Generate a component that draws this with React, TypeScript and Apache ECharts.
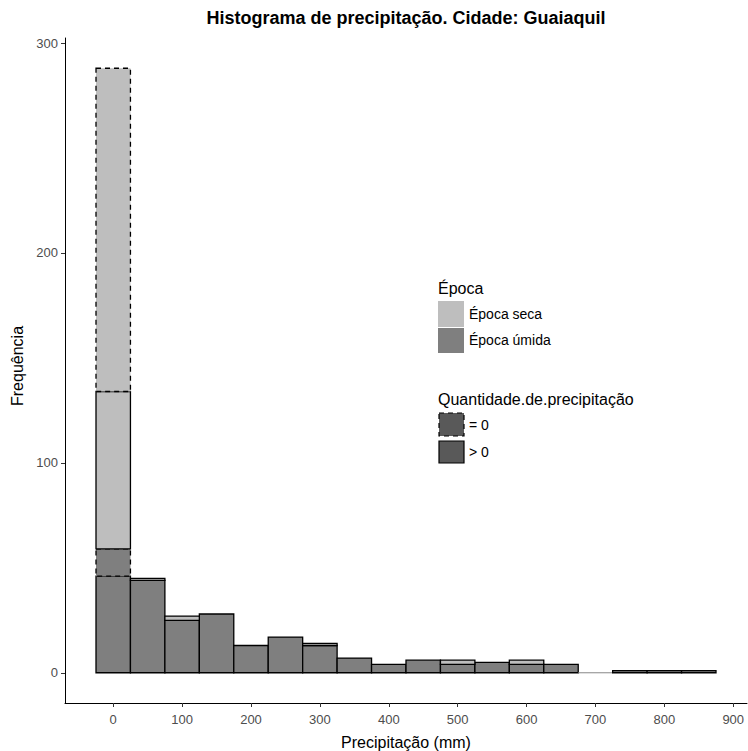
import React, { useEffect, useRef } from "react";
import * as echarts from "echarts";

// Histogram bins (centres, mm) — width 50
const binCenters = [0, 50, 100, 150, 200, 250, 300, 350, 400, 450, 500, 550, 600, 650, 700, 750, 800, 850];
const binWidth = 50;
// Counts per group (stack order bottom → top)
const wetPositive = [46, 44, 25, 28, 13, 17, 13, 7, 4, 6, 4, 5, 4, 4, 0, 1, 1, 1];
const wetZero = [13, 0, 0, 0, 0, 0, 0, 0, 0, 0, 0, 0, 0, 0, 0, 0, 0, 0];
const dryPositive = [75, 1, 2, 0, 0, 0, 1, 0, 0, 0, 2, 0, 2, 0, 0, 0, 0, 0];
const dryZero = [154, 0, 0, 0, 0, 0, 0, 0, 0, 0, 0, 0, 0, 0, 0, 0, 0, 0];

const xTicks = [0, 100, 200, 300, 400, 500, 600, 700, 800, 900];
const yTicks = [0, 100, 200, 300];

const titleText = "Histograma de precipitação. Cidade: Guaiaquil";
const xName = "Precipitação (mm)";
const yName = "Frequência";
const fillLegendTitle = "Época";
const fillLegendLabels = ["Época seca", "Época úmida"];
const lineLegendTitle = "Quantidade.de.precipitação";
const lineLegendLabels = ["= 0", "> 0"];

const FONT = "'Liberation Sans', Arial, sans-serif";
const LIGHT = "#BEBEBE";
const DARK = "#7F7F7F";
const KEY = "#595959";

export default function App() {
  const ref = useRef<HTMLDivElement>(null);

  useEffect(() => {
    if (!ref.current) return;
    const chart = echarts.init(ref.current, undefined, { renderer: "svg" });

    const groups = [
      { name: "Época úmida > 0", values: wetPositive, fill: DARK, dashed: false },
      { name: "Época úmida = 0", values: wetZero, fill: DARK, dashed: true },
      { name: "Época seca > 0", values: dryPositive, fill: LIGHT, dashed: false },
      { name: "Época seca = 0", values: dryZero, fill: LIGHT, dashed: true },
    ];

    const totals = binCenters.map((_, i) => groups.reduce((s, g) => s + g.values[i], 0));
    const cum = binCenters.map(() => 0);

    const series = groups.map((g, gi) => {
      const data: number[][] = [];
      binCenters.forEach((c, i) => {
        const v = g.values[i];
        const y0 = cum[i];
        const y1 = y0 + v;
        cum[i] = y1;
        if (v > 0 || (gi === 0 && totals[i] === 0)) {
          data.push([c - binWidth / 2, c + binWidth / 2, y0, y1]);
        }
      });
      return {
        type: "custom",
        name: g.name,
        data,
        encode: { x: [0, 1], y: [2, 3] },
        renderItem: (params: any, api: any) => {
          const x0 = api.value(0);
          const x1 = api.value(1);
          const y0 = api.value(2);
          const y1 = api.value(3);
          const p0 = api.coord([x0, y1]);
          const p1 = api.coord([x1, y0]);
          if (y1 === y0) {
            return {
              type: "line",
              shape: { x1: p0[0], y1: p1[1], x2: p1[0], y2: p1[1] },
              style: { stroke: "#888", lineWidth: 1 },
            };
          }
          return {
            type: "rect",
            shape: { x: p0[0], y: p0[1], width: p1[0] - p0[0], height: p1[1] - p0[1] },
            style: {
              fill: g.fill,
              stroke: "#000",
              lineWidth: 1.3,
              lineDash: g.dashed ? [5, 4] : null,
            },
          };
        },
      };
    });

    const legendText = (text: string, x: number, y: number, size: number) => ({
      type: "text",
      x,
      y,
      style: { text, font: `${size}px ${FONT}`, fill: "#000", align: "left", verticalAlign: "middle" },
    });

    chart.setOption({
      animation: false,
      grid: { left: 65, right: 1, top: 38, bottom: 48, containLabel: false },
      xAxis: {
        type: "value",
        min: -70,
        max: 920,
        axisLine: { show: true, onZero: false, lineStyle: { color: "#000", width: 1 } },
        axisTick: { show: true, length: 4, customValues: xTicks, lineStyle: { color: "#333" } },
        axisLabel: { customValues: xTicks, color: "#4D4D4D", fontSize: 13, fontFamily: FONT, margin: 10 },
        splitLine: { show: false },
      },
      yAxis: {
        type: "value",
        min: -14.4,
        max: 302.4,
        axisLine: { show: true, onZero: false, lineStyle: { color: "#000", width: 1 } },
        axisTick: { show: true, length: 4, customValues: yTicks, lineStyle: { color: "#333" } },
        axisLabel: { customValues: yTicks, color: "#4D4D4D", fontSize: 13, fontFamily: FONT, margin: 7 },
        splitLine: { show: false },
      },
      series,
      graphic: [
        {
          type: "text",
          x: 406,
          y: 18,
          style: { text: titleText, font: `bold 18px ${FONT}`, fill: "#000", align: "center", verticalAlign: "middle" },
        },
        {
          type: "text",
          x: 406,
          y: 742,
          style: { text: xName, font: `16px ${FONT}`, fill: "#000", align: "center", verticalAlign: "middle" },
        },
        {
          type: "text",
          x: 17,
          y: 366,
          rotation: Math.PI / 2,
          style: { text: yName, font: `16px ${FONT}`, fill: "#000", align: "center", verticalAlign: "middle" },
        },
        legendText(fillLegendTitle, 438, 288, 16),
        { type: "rect", shape: { x: 438, y: 301, width: 26, height: 26 }, style: { fill: LIGHT } },
        legendText(fillLegendLabels[0], 469, 314, 14),
        { type: "rect", shape: { x: 438, y: 328, width: 26, height: 25 }, style: { fill: DARK } },
        legendText(fillLegendLabels[1], 469, 340, 14),
        legendText(lineLegendTitle, 438, 399, 16),
        {
          type: "rect",
          shape: { x: 439, y: 413, width: 25, height: 23 },
          style: { fill: KEY, stroke: "#000", lineWidth: 1.2, lineDash: [5, 4] },
        },
        legendText(lineLegendLabels[0], 469, 425, 14),
        {
          type: "rect",
          shape: { x: 439, y: 441, width: 25, height: 22 },
          style: { fill: KEY, stroke: "#000", lineWidth: 1.2 },
        },
        legendText(lineLegendLabels[1], 469, 452, 14),
      ],
    });

    return () => chart.dispose();
  }, []);

  return (
    <div
      ref={ref}
      style={{ position: "absolute", left: 0, top: 0, width: 748, height: 751, background: "#fff" }}
    />
  );
}
